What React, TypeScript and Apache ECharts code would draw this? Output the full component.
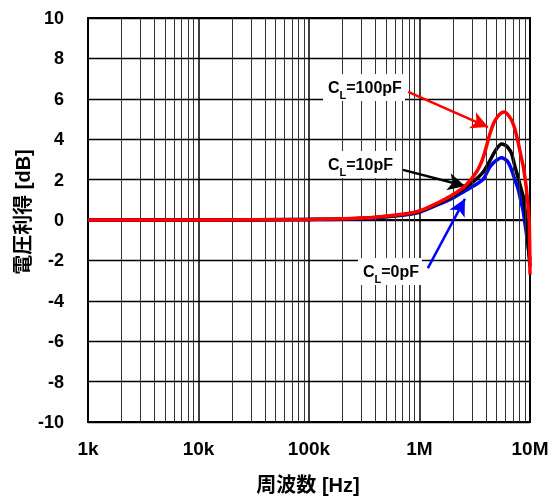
import React, { useEffect, useRef } from "react";
import * as echarts from "echarts";

const freqHz = [1e3, 3e3, 1e4, 3e4, 1e5, 2e5, 4e5, 7e5, 1e6, 1.5e6, 2e6, 2.6e6, 3.3e6, 3.8e6, 4.3e6, 4.7e6, 5.1e6, 5.5e6, 5.9e6, 6.3e6, 6.8e6, 7.3e6, 7.8e6, 8.3e6, 8.7e6, 9.0e6, 9.3e6, 9.6e6, 9.85e6, 1e7];
const gainCL100 = [0, 0, 0, 0.01, 0.03, 0.06, 0.14, 0.28, 0.45, 0.88, 1.25, 1.7, 2.4, 3.15, 4.2, 4.8, 5.12, 5.3, 5.35, 5.22, 4.95, 4.5, 3.85, 3.15, 2.64, 2.1, 1.5, 0.7, -0.15, -2.7];
const gainCL10 = [0, 0, 0, 0.01, 0.03, 0.05, 0.13, 0.26, 0.42, 0.83, 1.17, 1.6, 2.05, 2.4, 2.9, 3.3, 3.6, 3.76, 3.72, 3.6, 3.3, 2.65, 2.1, 1.55, 1.15, 0.55, -0.1, -1.2, -1.9, -2.3];
const gainCL0 = [0, 0, 0, 0, 0.02, 0.04, 0.11, 0.23, 0.38, 0.78, 1.08, 1.45, 1.78, 2.05, 2.6, 2.85, 3.0, 3.08, 3.02, 2.88, 2.5, 1.98, 1.55, 0.9, 0.4, -0.17, -0.7, -1.25, -1.7, -2.0];

const xTickValues = [1e3, 1e4, 1e5, 1e6, 1e7];
const xTickLabels = ["1k", "10k", "100k", "1M", "10M"];
const minorMultipliers = [2, 3, 4, 5, 6, 7, 8, 9];

// annotation arrows: [startFreq, startGain, endFreq, endGain]
const arrowCL100 = [7.9e5, 6.34, 4.17e6, 4.6];
const arrowCL10 = [7.1e5, 2.48, 2.58e6, 1.68];
const arrowCL0 = [1.19e6, -2.38, 2.58e6, 1.05];

const labelCL100 = "=100pF";
const labelCL10 = "=10pF";
const labelCL0 = "=0pF";

const xName = "周波数 [Hz]";
const yName = "電圧利得 [dB]";

const FONT = "'Liberation Sans', Arial, 'Noto Sans CJK JP', sans-serif";

export default function App() {
  const ref = useRef<HTMLDivElement>(null);
  useEffect(() => {
    if (!ref.current) return;
    const chart = echarts.init(ref.current, undefined, { renderer: "svg" });

    const minorLines: any[] = [];
    for (let d = 0; d < xTickValues.length - 1; d++) {
      for (const m of minorMultipliers) minorLines.push({ xAxis: xTickValues[d] * m });
    }

    const mk = (vals: number[]) => freqHz.map((f, i) => [f, vals[i]]);
    const arrow = (a: number[], color: string) => ({
      silent: true,
      symbol: ["none", "arrow"],
      symbolSize: [13, 17],
      label: { show: false },
      lineStyle: { color, width: 2.5, type: "solid" },
      data: [[{ coord: [a[0], a[1]] }, { coord: [a[2], a[3]] }]],
    });

    const labelText = (x: number, yc: number, w: number, txt: string) => [
      { type: "rect", shape: { x: x - 5, y: yc - 13, width: w, height: 27 }, style: { fill: "#fff" }, z: 50 },
      {
        type: "text",
        x: x,
        y: yc - 9,
        z: 51,
        style: {
          text: "{a|C}{s|L}{a|" + txt + "}",
          rich: {
            a: { fontFamily: FONT, fontWeight: "bold", fontSize: 16, fill: "#000", verticalAlign: "bottom", lineHeight: 18 },
            s: { fontFamily: FONT, fontWeight: "bold", fontSize: 11, fill: "#000", verticalAlign: "bottom", lineHeight: 12, padding: [0, 0, -4, 0] },
          },
        },
      },
    ];

    chart.setOption({
      animation: false,
      grid: { left: 88, top: 18, right: 29, bottom: 77, show: true, borderColor: "#000", borderWidth: 2, backgroundColor: "transparent" },
      xAxis: {
        type: "log",
        logBase: 10,
        min: 1e3,
        max: 1e7,
        axisLine: { lineStyle: { color: "#000", width: 2 } },
        axisTick: { show: false },
        axisLabel: {
          fontFamily: FONT,
          fontWeight: "bold",
          fontSize: 19,
          color: "#000",
          margin: 17,
          formatter: (v: number) => {
            const i = xTickValues.findIndex((t) => Math.abs(Math.log10(t) - Math.log10(v)) < 1e-6);
            return i >= 0 ? xTickLabels[i] : "";
          },
        },
        splitLine: { show: true, lineStyle: { color: "#000", width: 1.5 } },
      },
      yAxis: {
        type: "value",
        min: -10,
        max: 10,
        interval: 2,
        axisLine: { show: true, lineStyle: { color: "#000", width: 2 } },
        axisTick: { show: false },
        axisLabel: { fontFamily: FONT, fontWeight: "bold", fontSize: 18, color: "#000", margin: 24 },
        splitLine: { show: true, lineStyle: { color: "#000", width: 1.3 } },
      },
      series: [
        {
          type: "line",
          z: 1,
          data: [[1e3, 0]],
          showSymbol: false,
          lineStyle: { width: 0, opacity: 0 },
          silent: true,
          markLine: {
            silent: true,
            symbol: ["none", "none"],
            label: { show: false },
            lineStyle: { color: "#333", width: 1, type: "solid" },
            data: minorLines,
          },
        },
        {
          name: "CL=0pF",
          type: "line",
          z: 3,
          data: mk(gainCL0),
          smooth: 0.25,
          showSymbol: false,
          lineStyle: { color: "#0000ff", width: 3.5 },
          markLine: arrow(arrowCL0, "#0000ff"),
        },
        {
          name: "CL=10pF",
          type: "line",
          z: 4,
          data: mk(gainCL10),
          smooth: 0.25,
          showSymbol: false,
          lineStyle: { color: "#000000", width: 3.5 },
          markLine: arrow(arrowCL10, "#000000"),
        },
        {
          name: "CL=100pF",
          type: "line",
          z: 5,
          data: mk(gainCL100),
          smooth: 0.25,
          showSymbol: false,
          lineStyle: { color: "#ff0000", width: 3.5 },
          markLine: arrow(arrowCL100, "#ff0000"),
        },
      ],
      graphic: [
        ...labelText(328, 87, 82, labelCL100),
        ...labelText(328, 164, 74, labelCL10),
        ...labelText(363, 271, 64, labelCL0),
        {
          type: "text",
          x: 308,
          y: 485,
          style: { text: xName, fontFamily: FONT, fontWeight: "bold", fontSize: 20, fill: "#000", align: "center", verticalAlign: "middle" },
        },
        {
          type: "text",
          x: 23,
          y: 212,
          rotation: Math.PI / 2,
          style: { text: yName, fontFamily: FONT, fontWeight: "bold", fontSize: 20, fill: "#000", align: "center", verticalAlign: "middle" },
        },
      ],
    });
    return () => chart.dispose();
  }, []);
  return <div ref={ref} style={{ position: "fixed", left: 0, top: 0, width: 559, height: 499 }} />;
}
